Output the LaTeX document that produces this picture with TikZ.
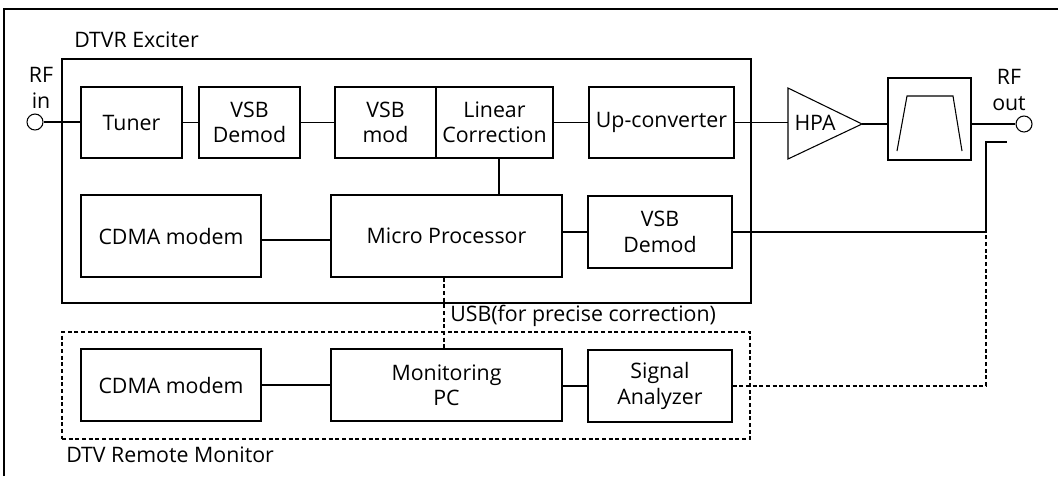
\documentclass[tikz,border=0pt]{standalone}
\usepackage{fontspec}
\setmainfont{Open Sans}
\usetikzlibrary{calc}
\begin{document}
\begin{tikzpicture}[x=0.75pt,y=-0.75pt,
  txt/.style={font=\fontsize{16}{19}\selectfont},
  box/.style={draw, line width=0.8pt, inner sep=0pt, align=center, txt},
  sz/.style 2 args={minimum width=#1*0.75pt, minimum height=#2*0.75pt},
  ln/.style={line width=0.8pt},
  dln/.style={line width=0.8pt, dash pattern=on 3pt off 2pt},
  lbl/.style={inner sep=0pt, align=center, txt},
  port/.style={draw, circle, line width=0.8pt, minimum size=12pt, inner sep=0pt}]
\useasboundingbox (0,0) rectangle (1060,479);

% outer frame (partial, as scanned)
\draw[line width=0.9pt] (4,476) -- (4,9) -- (1058,9);

% group frames
\node[draw, line width=0.9pt, sz={689}{244}, inner sep=0pt] (exciter) at (406.5,181) {};
\node[lbl, anchor=west] (exlbl) at (74,40) {DTVR Exciter};
\node[draw, dln, sz={688}{107}, inner sep=0pt] (remote) at (406,385.5) {};
\node[lbl, anchor=west] (remlbl) at (66,455) {DTV Remote Monitor};

% row 1
\node[box, sz={101}{71}] (tuner) at (131.5,122.5) {Tuner};
\node[box, sz={101}{71}] (vsbd1) at (249.5,122.5) {VSB\\Demod};
\node[box, sz={101}{71}] (vsbmod) at (385.5,122.5) {VSB\\mod};
\node[box, sz={117}{71}] (lincorr) at (494.5,122.5) {Linear\\Correction};
\node[box, sz={145}{71}] (upconv) at (661.5,122.5) {Up-converter};

% HPA
\coordinate (hpaA) at (788,88);
\coordinate (hpaB) at (788,159);
\coordinate (hpaT) at (862,124);
\draw[ln] (hpaA) -- (hpaT) -- (hpaB) -- cycle;
\node[lbl] (hpa) at (815,123) {HPA};

% filter
\node[draw, line width=0.8pt, sz={83}{82}, inner sep=0pt] (filter) at (929.5,119) {};
\draw[ln] ($(filter.center)+(-32.5,32)$) -- ($(filter.center)+(-22.5,-23)$)
  -- ($(filter.center)+(23.5,-23)$) -- ($(filter.center)+(32.5,32)$);

% ports
\node[port] (rfin) at (35,122) {};
\node[lbl] (rfinlbl) at (41,88) {RF\\in};
\node[port] (rfout) at (1024,124) {};
\node[lbl] (rfoutlbl) at (1009,90) {RF\\out};

% row 2
\node[box, sz={180}{82}] (cdma1) at (171,236) {CDMA modem};
\node[box, sz={231}{82}] (mp) at (446.5,236) {Micro Processor};
\node[box, sz={144}{72}] (vsbd2) at (660,232) {VSB\\Demod};

% remote row
\node[box, sz={180}{72}] (cdma2) at (171,385) {CDMA modem};
\node[box, sz={231}{72}] (pc) at (446.5,385) {Monitoring\\PC};
\node[box, sz={144}{72}] (sa) at (660,386) {Signal\\Analyzer};

% connectors, row 1
\draw[ln] (rfin) -- (rfin -| tuner.west);
\draw[ln] (tuner) -- (vsbd1);
\draw[ln] (vsbd1) -- (vsbmod);
\draw[ln] (lincorr) -- (upconv);
\draw[ln] (upconv.east) -- (upconv.east -| hpaA);
\draw[ln] (hpaT) -- (hpaT -| filter.west);
\draw[ln] (filter.east |- rfout) -- (rfout);

% connectors, row 2
\coordinate (lcdown) at (499,158);
\draw[ln] (lcdown) -- (lcdown |- mp.north);
\draw[ln] ($(cdma1.east)+(0,4)$) -- ($(mp.west)+(0,4)$);
\draw[ln] (vsbd2.west -| mp.east) -- (vsbd2.west);
\coordinate (tap) at (1007,142);
\coordinate (fbx) at (986,142);
\draw[ln] (vsbd2.east) -- (vsbd2.east -| fbx) -- (fbx) -- (tap);

% remote connectors
\draw[ln] (cdma2.east) -- (cdma2.east -| pc.west);
\draw[ln] (sa.west -| pc.east) -- (sa.west);
\draw[dln] (sa.east) -- (sa.east -| fbx) -- (vsbd2.east -| fbx);

% USB link
\coordinate (usb) at (444,0);
\draw[dln] (usb |- mp.south) -- (usb |- pc.north);
\node[lbl, anchor=west] (usblbl) at (450,316) {USB(for precise correction)};
\end{tikzpicture}
\end{document}
